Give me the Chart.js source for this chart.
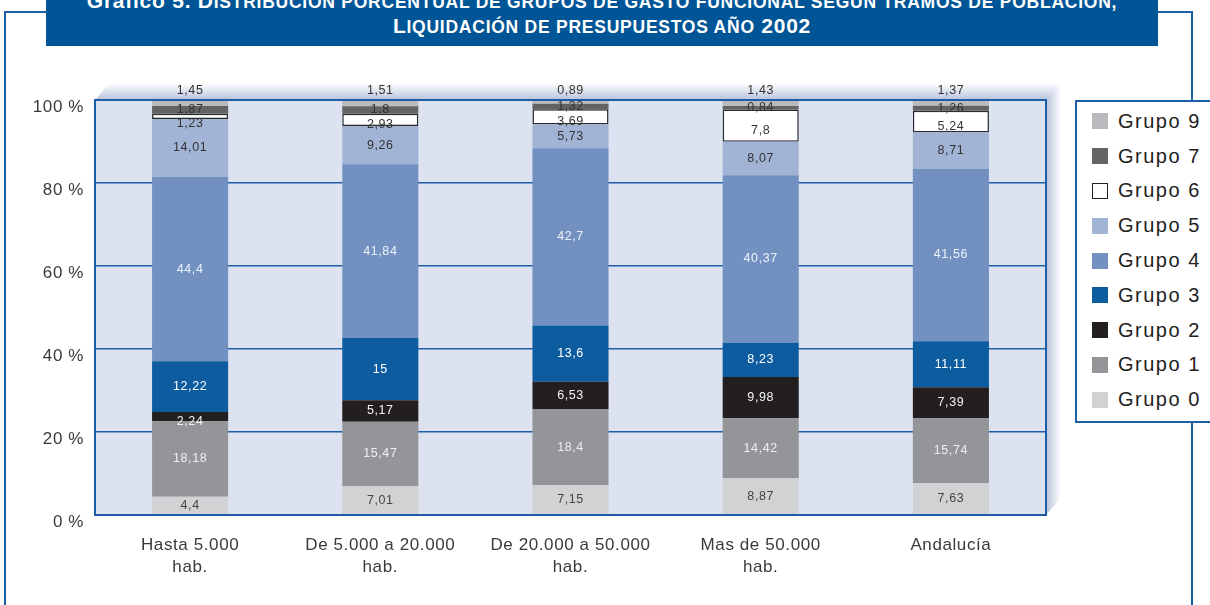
<!DOCTYPE html>
<html lang="es">
<head>
  <meta charset="UTF-8">
  <title>Gráfico 5</title>
  <style>
    html, body {
      margin: 0;
      padding: 0;
      background: #fff;
    }
    body {
      width: 1210px;
      height: 605px;
      position: relative;
      overflow: hidden;
      font-family: "Liberation Sans", Arial, sans-serif;
    }
    #frame {
      position: absolute;
      left: 4px;
      top: 11px;
      width: 1189px;
      height: 660px;
      border: 2px solid #1c5ea6;
      box-sizing: border-box;
    }
    #titleBox {
      position: absolute;
      left: 46px;
      top: 0;
      width: 1112px;
      height: 46px;
      background: #005596;
      color: #fff;
      font-family: "Liberation Sans", Arial, sans-serif;
      font-weight: bold;
      text-align: center;
      overflow: hidden;
    }
    #titleBox div {
      position: absolute;
      left: 0;
      right: 0;
      font-size: 21px;
      line-height: 21px;
      letter-spacing: 0.75px;
      white-space: nowrap;
    }
    #titleBox .l1 { top: -10.3px; }
    #titleBox .l2 { top: 14.5px; }
    #titleBox .s { font-size: 17.5px; }
    #chartWrap {
      position: absolute;
      left: 0;
      top: 0;
      width: 1210px;
      height: 605px;
    }
    #legend {
      position: absolute;
      left: 1075px;
      top: 100px;
      width: 160px;
      height: 323px;
      border: 2px solid #1c5ea6;
      box-sizing: border-box;
      background: #fff;
      padding-top: 2px;
    }
    .item {
      height: 34.8px;
      display: flex;
      align-items: center;
      font-size: 20px;
      letter-spacing: 1.5px;
      color: #222;
    }
    .sw {
      width: 16px;
      height: 16px;
      margin-left: 15px;
      margin-right: 10px;
      box-sizing: border-box;
    }
  </style>
</head>
<body>
  <div id="frame"></div>
  <div id="chartWrap"><canvas id="chart" width="1210" height="605"></canvas></div>
  <div id="titleBox">
    <div class="l1">Gráfico 5. D<span class="s">ISTRIBUCIÓN PORCENTUAL DE GRUPOS DE GASTO FUNCIONAL SEGÚN TRAMOS DE POBLACIÓN,</span></div>
    <div class="l2">L<span class="s">IQUIDACIÓN DE PRESUPUESTOS AÑO</span> 2002</div>
  </div>
  <div id="legend"></div>

  <script src="https://cdn.jsdelivr.net/npm/chart.js/dist/chart.umd.min.js"></script>
  <script>
    // categories (tramos de población)
    const categories = [
      ['Hasta 5.000', 'hab.'],
      ['De 5.000 a 20.000', 'hab.'],
      ['De 20.000 a 50.000', 'hab.'],
      ['Mas de 50.000', 'hab.'],
      ['Andalucía']
    ];

    // % per group, same order as categories
    const grupo0 = [4.4, 7.01, 7.15, 8.87, 7.63];
    const grupo1 = [18.18, 15.47, 18.4, 14.42, 15.74];
    const grupo2 = [2.24, 5.17, 6.53, 9.98, 7.39];
    const grupo3 = [12.22, 15, 13.6, 8.23, 11.11];
    const grupo4 = [44.4, 41.84, 42.7, 40.37, 41.56];
    const grupo5 = [14.01, 9.26, 5.73, 8.07, 8.71];
    const grupo6 = [1.23, 2.93, 3.69, 7.8, 5.24];
    const grupo7 = [1.87, 1.8, 1.32, 0.84, 1.26];
    const grupo9 = [1.45, 1.51, 0.89, 1.43, 1.37];

    const yTicks = [0, 20, 40, 60, 80, 100];

    const series = [
      { label: 'Grupo 0', data: grupo0, color: '#d1d2d4', text: '#444' },
      { label: 'Grupo 1', data: grupo1, color: '#939598', text: '#eeeeee' },
      { label: 'Grupo 2', data: grupo2, color: '#231f20', text: '#f2f2f2', shiftSmall: true },
      { label: 'Grupo 3', data: grupo3, color: '#0c5c9f', text: '#ffffff' },
      { label: 'Grupo 4', data: grupo4, color: '#7291c0', text: '#eef2fa' },
      { label: 'Grupo 5', data: grupo5, color: '#a2b4d6', text: '#333' },
      { label: 'Grupo 6', data: grupo6, color: '#ffffff', text: '#333', border: true },
      { label: 'Grupo 7', data: grupo7, color: '#636363', text: '#333' },
      { label: 'Grupo 9', data: grupo9, color: '#b9bbbe', text: '#333', above: true }
    ];

    const datasets = series.map(s => ({
      label: s.label,
      data: s.data,
      backgroundColor: s.color,
      borderColor: s.border ? '#2b2b2b' : s.color,
      borderWidth: s.border ? 1.5 : 0,
      borderSkipped: false,
      barPercentage: 0.4,
      categoryPercentage: 1,
      meta: s
    }));

    const FONT = '"Liberation Sans", Arial, sans-serif';

    // plot background + pseudo 3D walls
    const backdrop = {
      id: 'backdrop',
      beforeDraw(chart) {
        const { ctx, chartArea: a } = chart;
        ctx.letterSpacing = '0.6px';
        const dx = 15, dy = -17;
        ctx.save();
        let g = ctx.createLinearGradient(0, a.top + dy, 0, a.top);
        g.addColorStop(0, '#ffffff');
        g.addColorStop(1, '#b7c3dc');
        ctx.fillStyle = g;
        ctx.beginPath();
        ctx.moveTo(a.left, a.top);
        ctx.lineTo(a.left + dx, a.top + dy);
        ctx.lineTo(a.right + dx, a.top + dy);
        ctx.lineTo(a.right, a.top);
        ctx.closePath();
        ctx.fill();

        g = ctx.createLinearGradient(a.right, 0, a.right + dx, 0);
        g.addColorStop(0, '#b7c3dc');
        g.addColorStop(1, '#ffffff');
        ctx.fillStyle = g;
        ctx.beginPath();
        ctx.moveTo(a.right, a.top);
        ctx.lineTo(a.right + dx, a.top + dy);
        ctx.lineTo(a.right + dx, a.bottom + dy);
        ctx.lineTo(a.right, a.bottom);
        ctx.closePath();
        ctx.fill();

        ctx.fillStyle = '#dce2f0';
        ctx.fillRect(a.left, a.top, a.right - a.left, a.bottom - a.top);
        ctx.restore();
      },
      afterDatasetsDraw(chart) {
        const { ctx, chartArea: a } = chart;
        ctx.save();
        ctx.strokeStyle = '#1c5ea6';
        ctx.lineWidth = 2;
        ctx.strokeRect(a.left, a.top, a.right - a.left, a.bottom - a.top);
        ctx.restore();
      }
    };

    // value labels inside / next to the segments
    const valueLabels = {
      id: 'valueLabels',
      afterDraw(chart) {
        const ctx = chart.ctx;
        ctx.save();
        ctx.font = '12.5px ' + FONT;
        ctx.textAlign = 'center';
        ctx.textBaseline = 'middle';
        chart.data.datasets.forEach((ds, di) => {
          const m = ds.meta;
          chart.getDatasetMeta(di).data.forEach((bar, i) => {
            const top = Math.min(bar.y, bar.base);
            const bottom = Math.max(bar.y, bar.base);
            const h = bottom - top;
            let y = (top + bottom) / 2;
            if (m.above) y = top - 9;
            else if (m.border) y = h < 8 ? bottom + 5 : y + 5;
            else if (m.shiftSmall && h < 10) y = bottom;
            ctx.fillStyle = m.text;
            ctx.fillText(String(ds.data[i]).replace('.', ','), bar.x, y);
          });
        });
        ctx.restore();
      }
    };

    const chart = new Chart(document.getElementById('chart'), {
      type: 'bar',
      data: { labels: categories, datasets: datasets },
      options: {
        responsive: false,
        animation: false,
        layout: { padding: { top: 100, right: 164, left: 0, bottom: 0 } },
        plugins: {
          legend: { display: false },
          tooltip: { enabled: false }
        },
        scales: {
          x: {
            stacked: true,
            grid: { display: false, drawTicks: false },
            border: { display: false },
            ticks: {
              color: '#3a3a3a',
              font: { family: FONT, size: 17, lineHeight: 1.25 },
              padding: 20,
              maxRotation: 0,
              autoSkip: false
            },
            afterFit(s) { s.height = 90; }
          },
          y: {
            stacked: true,
            min: 0,
            max: 100,
            afterBuildTicks(s) { s.ticks = yTicks.map(v => ({ value: v })); },
            ticks: {
              callback: v => v + ' %',
              color: '#3a3a3a',
              font: { family: FONT, size: 17 },
              padding: 11,
              labelOffset: 7.5
            },
            grid: { color: '#1c5ea6', lineWidth: 1.5, drawTicks: false },
            border: { display: false },
            afterFit(s) { s.width = 95; }
          }
        }
      },
      plugins: [backdrop, valueLabels]
    });

    // legend, top group first
    const legend = document.getElementById('legend');
    series.slice().reverse().forEach(s => {
      const item = document.createElement('div');
      item.className = 'item';
      const sw = document.createElement('span');
      sw.className = 'sw';
      sw.style.background = s.color;
      if (s.border) sw.style.border = '1px solid #222';
      item.appendChild(sw);
      item.appendChild(document.createTextNode(s.label));
      legend.appendChild(item);
    });
  </script>
</body>
</html>
